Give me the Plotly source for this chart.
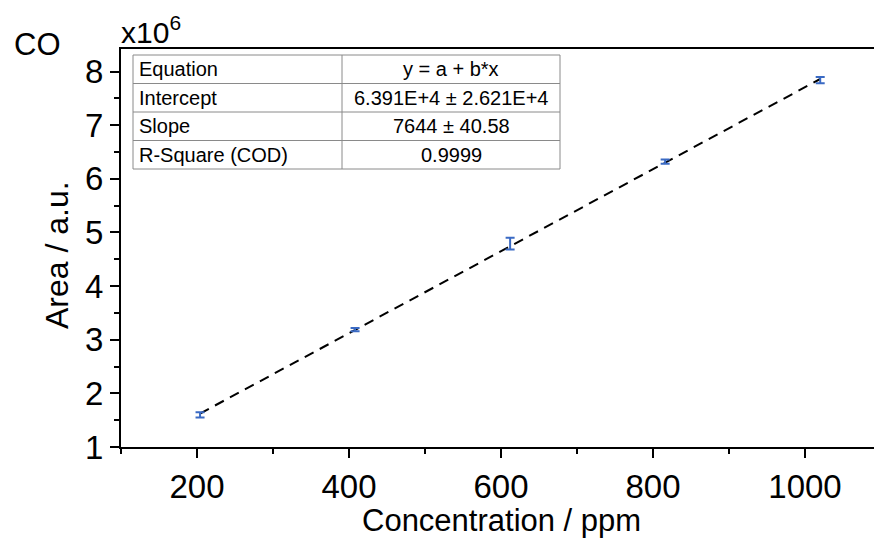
import plotly.graph_objects as go

# ---- data ----
conc_ppm = [204, 408, 612, 816, 1020]
area_e6 = [1.60, 3.19, 4.79, 6.32, 7.84]
area_err_e6 = [0.05, 0.03, 0.11, 0.04, 0.06]

fit_intercept = 6.391e4
fit_slope = 7644
fit_x = [204, 1020]

table_labels = ["Equation", "Intercept", "Slope", "R-Square (COD)"]
table_values = ["y = a + b*x", "6.391E+4 ± 2.621E+4", "7644 ± 40.58", "0.9999"]

x_ticks = [200, 400, 600, 800, 1000]
y_ticks = [1, 2, 3, 4, 5, 6, 7, 8]

FONT = "Arial, 'Liberation Sans', sans-serif"
OFF = 8  # page body margin offset
W, H = 882 - OFF, 545 - OFF
# plot-area edges in screen pixels
L, R, T, B = 121, 881, 49, 447


def px(xp):
    return (xp - L) / (R - L)


def py(yp):
    return (B - yp) / (B - T)


fit_y = [(fit_intercept + fit_slope * x) / 1e6 for x in fit_x]

fig = go.Figure()
fig.add_trace(go.Scatter(
    x=fit_x, y=fit_y, mode="lines",
    line=dict(color="black", width=2, dash="10px,7px"),
    showlegend=False, hoverinfo="skip"))
fig.add_trace(go.Scatter(
    x=conc_ppm, y=area_e6, mode="markers",
    marker=dict(size=1, color="#3a6ac4", opacity=0),
    error_y=dict(type="data", array=area_err_e6, visible=True,
                 color="#3a6ac4", thickness=2, width=4.5),
    showlegend=False))

shapes = []
annotations = []

# table
tx0, tx1, tmid = 133, 560, 342
row_edges = [55, 83.5, 112, 140.5, 169]
gray = "#8a8a8a"
shapes.append(dict(type="rect", xref="paper", yref="paper",
                   x0=px(tx0), x1=px(tx1), y0=py(row_edges[-1]), y1=py(row_edges[0]),
                   line=dict(color=gray, width=1), fillcolor="white", layer="above"))
for ye in row_edges[1:-1]:
    shapes.append(dict(type="line", xref="paper", yref="paper",
                       x0=px(tx0), x1=px(tx1), y0=py(ye), y1=py(ye),
                       line=dict(color=gray, width=1), layer="above"))
shapes.append(dict(type="line", xref="paper", yref="paper",
                   x0=px(tmid), x1=px(tmid), y0=py(row_edges[-1]), y1=py(row_edges[0]),
                   line=dict(color=gray, width=1), layer="above"))
for i, (lab, val) in enumerate(zip(table_labels, table_values)):
    yc = (row_edges[i] + row_edges[i + 1]) / 2
    annotations.append(dict(xref="paper", yref="paper", x=px(tx0 + 4), y=py(yc),
                            text=lab, showarrow=False, xanchor="left", yanchor="middle",
                            font=dict(family=FONT, size=20, color="black")))
    annotations.append(dict(xref="paper", yref="paper", x=px((tmid + tx1) / 2), y=py(yc),
                            text=val, showarrow=False, xanchor="center", yanchor="middle",
                            font=dict(family=FONT, size=20, color="black")))

# labels
annotations.append(dict(xref="paper", yref="paper", x=px(37), y=py(45), text="CO",
                        showarrow=False, xanchor="center", yanchor="middle",
                        font=dict(family=FONT, size=31, color="black")))
annotations.append(dict(xref="paper", yref="paper", x=px(119), y=py(30), text="x10<sup>6</sup>",
                        showarrow=False, xanchor="left", yanchor="middle",
                        font=dict(family=FONT, size=30, color="black")))
annotations.append(dict(xref="paper", yref="paper", x=px(57), y=py(255), text="Area / a.u.",
                        showarrow=False, xanchor="center", yanchor="middle", textangle=-90,
                        font=dict(family=FONT, size=32, color="black")))
annotations.append(dict(xref="paper", yref="paper", x=px(501), y=py(520),
                        text="Concentration / ppm",
                        showarrow=False, xanchor="center", yanchor="middle",
                        font=dict(family=FONT, size=31, color="black")))

fig.update_layout(
    width=W, height=H,
    margin=dict(l=L - OFF, r=882 - R, t=T - OFF, b=545 - B, pad=0, autoexpand=False),
    paper_bgcolor="white", plot_bgcolor="white",
    shapes=shapes, annotations=annotations,
    font=dict(family=FONT, color="black"),
)
fig.update_xaxes(
    range=[100, 1100], tickvals=x_ticks, ticktext=[str(v) for v in x_ticks],
    showgrid=False, zeroline=False, showline=True, linecolor="black", linewidth=2,
    mirror=True, ticks="outside", ticklen=9, tickwidth=2, tickcolor="black",
    tickfont=dict(family=FONT, size=33, color="black"),
    minor=dict(tickvals=[100, 300, 500, 700, 900, 1100], ticks="outside", ticklen=5,
               tickwidth=2, tickcolor="black", showgrid=False),
)
fig.update_yaxes(
    range=[1, 8.42], tickvals=y_ticks, ticktext=[str(v) for v in y_ticks],
    showgrid=False, zeroline=False, showline=True, linecolor="black", linewidth=2,
    mirror=True, ticks="outside", ticklen=9, tickwidth=2, tickcolor="black",
    tickfont=dict(family=FONT, size=33, color="black"),
    minor=dict(tickvals=[1.5, 2.5, 3.5, 4.5, 5.5, 6.5, 7.5], ticks="outside", ticklen=5,
               tickwidth=2, tickcolor="black", showgrid=False),
)

fig.write_html("out.html")
